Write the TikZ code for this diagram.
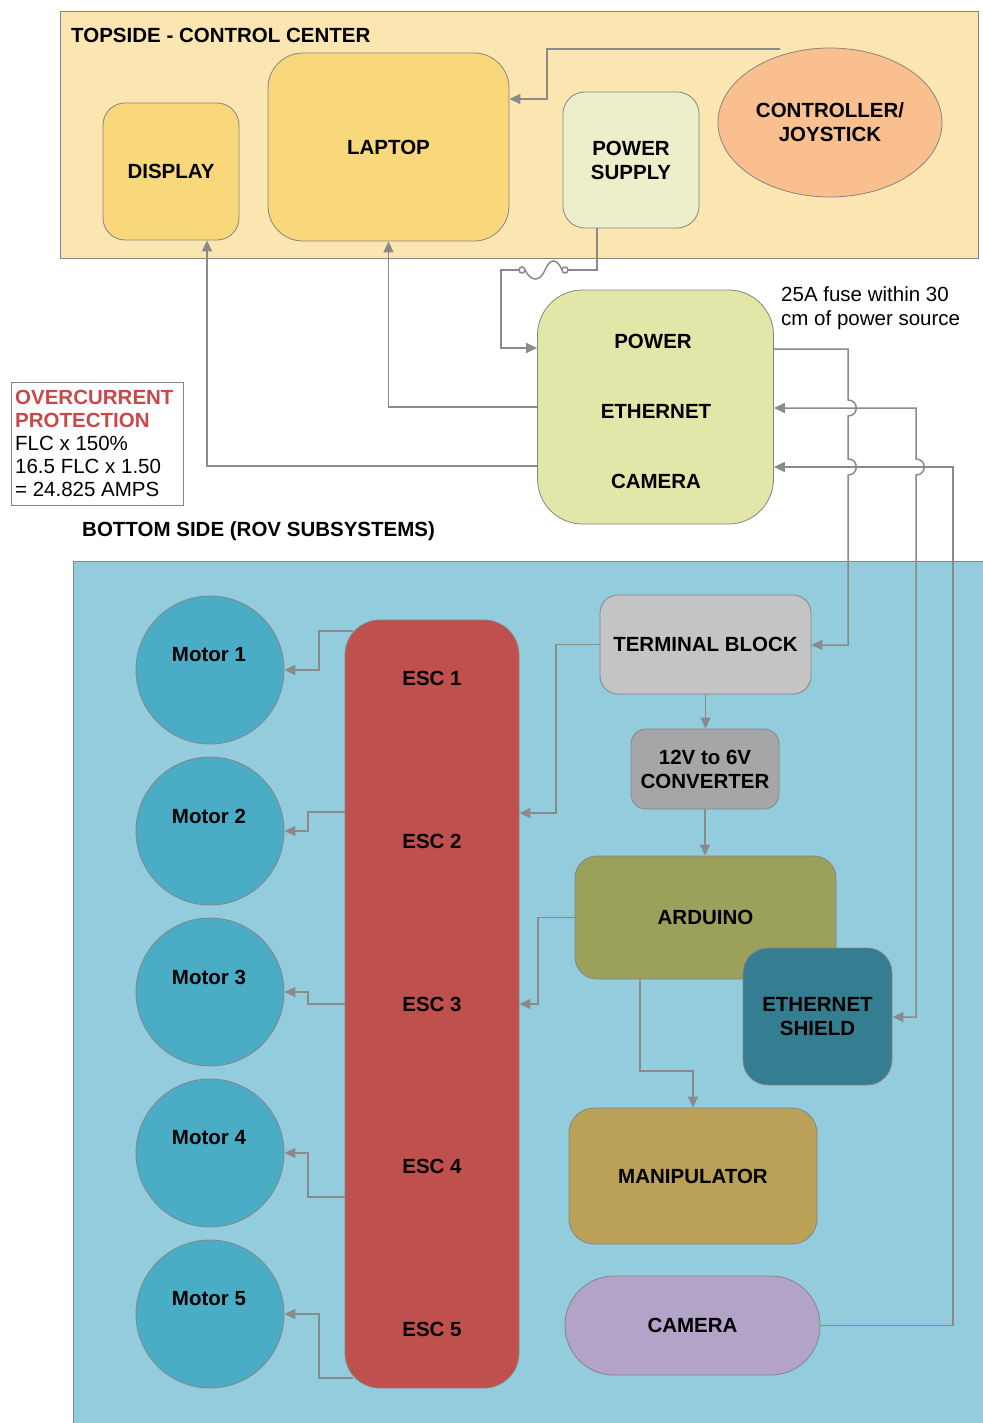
\documentclass[tikz,border=0pt]{standalone}
\usepackage{fontspec}
\setmainfont{Liberation Sans}
\usetikzlibrary{arrows.meta,shapes.geometric,calc}
\definecolor{topbg}{HTML}{FBE5B0}
\definecolor{yel}{HTML}{F9D87C}
\definecolor{psuc}{HTML}{EDEFCB}
\definecolor{ctrlc}{HTML}{F9BF8F}
\definecolor{hubc}{HTML}{E2E6A9}
\definecolor{botbg}{HTML}{93CDDD}
\definecolor{motorc}{HTML}{4BACC6}
\definecolor{escc}{HTML}{C0504D}
\definecolor{tbc}{HTML}{C4C4C4}
\definecolor{convc}{HTML}{A6A6A6}
\definecolor{ardc}{HTML}{9BA05A}
\definecolor{shieldc}{HTML}{357E92}
\definecolor{manipc}{HTML}{BBA057}
\definecolor{camc}{HTML}{B3A3C8}
\definecolor{linegray}{HTML}{8A8A8A}
\definecolor{bordergray}{HTML}{858585}
\definecolor{ocred}{HTML}{C9484A}
\newcommand\lblfont{\fontsize{20.5}{24}\selectfont\bfseries}
\newcommand\regfont{\fontsize{20.5}{23.5}\selectfont}
\begin{document}
\begin{tikzpicture}[x=1pt,y=-1pt,
  box/.style={draw=bordergray, line width=0.8pt, inner sep=0pt, align=center, font=\lblfont},
  lbl/.style={inner sep=0pt, align=center, font=\lblfont},
  conn/.style={draw=linegray, line width=1.5pt},
  arr/.style={conn, -{Triangle[length=11pt,width=10pt]}},
  darr/.style={conn, {Triangle[length=11pt,width=10pt]}-{Triangle[length=11pt,width=10pt]}}]
\useasboundingbox (0,0) rectangle (982,1423);
\fill[white] (0,0) rectangle (982,1423);

% topside
\node[box, fill=topbg, anchor=north west, minimum width=918pt, minimum height=247pt] (top) at (60,11) {};
\node[lbl, anchor=west] (toptitle) at (71,35) {TOPSIDE - CONTROL CENTER};
\node[box, fill=yel, minimum width=136pt, minimum height=137pt, rounded corners=22pt] (display) at (171,171.5) {DISPLAY};
\node[box, fill=yel, minimum width=241pt, minimum height=188pt, rounded corners=35pt] (laptop) at (388.5,147) {LAPTOP};
\node[box, fill=psuc, minimum width=136pt, minimum height=136pt, rounded corners=22pt] (psu) at (631,160) {POWER\\SUPPLY};
\node[box, ellipse, fill=ctrlc, minimum width=224pt, minimum height=149pt] (ctrl) at (830,122.5) {CONTROLLER/\\JOYSTICK};

% hub
\node[box, fill=hubc, minimum width=236pt, minimum height=234pt, rounded corners=45pt] (hub) at (655.5,407) {};
\node[lbl] (hubpow) at (653,341) {POWER};
\node[lbl] (hubeth) at (656,411) {ETHERNET};
\node[lbl] (hubcam) at (656,481) {CAMERA};
\node[inner sep=0pt, anchor=west, align=left, font=\regfont] (fusenote) at (781,308) {25A fuse within 30\\cm of power source};

% overcurrent
\node[draw=bordergray, line width=0.8pt, fill=white, anchor=north west, minimum width=172pt, minimum height=123pt, inner sep=0pt] (oc) at (11,382) {};
\node[inner sep=0pt, anchor=west, align=left, font=\fontsize{20.5}{23.2}\selectfont] (octext) at (15,443.5)
  {{\bfseries\color{ocred}OVERCURRENT}\\{\bfseries\color{ocred}PROTECTION}\\FLC x 150\%\\16.5 FLC x 1.50\\= 24.825 AMPS};

\node[lbl, anchor=west] (bottitle) at (82,531) {BOTTOM SIDE (ROV SUBSYSTEMS)};

% bottom side
\node[box, fill=botbg, anchor=north west, minimum width=912pt, minimum height=866pt] (bot) at (73,561) {};

\foreach \i/\y in {1/670,2/831,3/992,4/1153,5/1314}{
  \node[box, circle, fill=motorc, minimum size=148pt] (m\i) at (210,\y) {};
  \node[lbl] (ml\i) at (209,\y-15) {Motor \i};
}
\node[box, fill=escc, minimum width=174pt, minimum height=768pt, rounded corners=35pt] (esc) at (432,1004) {};
\foreach \i/\y in {1/678,2/841,3/1004,4/1166,5/1329}{
  \node[lbl] (escl\i) at (432,\y) {ESC \i};
}
\node[box, fill=tbc, minimum width=211pt, minimum height=99pt, rounded corners=18pt] (tb) at (705.5,644.5) {TERMINAL BLOCK};
\node[box, fill=convc, minimum width=148pt, minimum height=80pt, rounded corners=15pt] (conv) at (705,769) {12V to 6V\\CONVERTER};
\node[box, fill=ardc, minimum width=261pt, minimum height=123pt, rounded corners=22pt] (ard) at (705.5,917.5) {ARDUINO};
\node[box, fill=shieldc, minimum width=149pt, minimum height=137pt, rounded corners=25pt] (shield) at (817.5,1016.5) {ETHERNET\\SHIELD};
\node[box, fill=manipc, minimum width=248pt, minimum height=136pt, rounded corners=25pt] (manip) at (693,1176) {MANIPULATOR};
\node[box, fill=camc, minimum width=255pt, minimum height=99pt, rounded corners=49pt] (cam) at (692.5,1325.5) {CAMERA};

% connectors topside
\coordinate (ctrlout) at (780,49);
\draw[arr] (ctrlout) -- (547,49) -- (547,99) -- (laptop.east |- 0,99);

\draw[conn] (psu.south -| 597,0) -- (597,270) -- (568,270);
\draw[conn] (565,270) circle (3);
\draw[conn] (522,270) circle (3);
\draw[conn] (525,270) .. controls (531,282) and (540,282) .. (545,270) .. controls (550,258) and (557,258) .. (562,270);
\draw[arr] (519,270) -- (501,270) -- (501,348) -- (hub.west |- 0,348);

\draw[arr] (hub.west |- 0,407) -| (laptop.south);
\draw[arr] (hub.west |- 0,466) -| (display.south -| 207,0);

% hub right side
\draw[arr] (hub.east |- 0,349) -- (848,349) -- (848,400)
  .. controls (859,400) and (859,416) .. (848,416) -- (848,459)
  .. controls (859,459) and (859,475) .. (848,475) -- (848,645) -- (tb.east |- 0,645);
\draw[darr] (hub.east |- 0,408) -- (916,408) -- (916,459)
  .. controls (927,459) and (927,475) .. (916,475) -- (916,1017) -- (shield.east |- 0,1017);
\draw[arr] (cam.east) -- (953,1325.5) -- (953,467) -- (hub.east |- 0,467);

% bottom connectors
\draw[arr] (tb.west) -- (556,644.5) |- (esc.east |- 0,813);
\draw[arr] (tb.south) -- (conv.north -| tb.south);
\draw[arr] (conv.south) -- (ard.north -| conv.south);
\draw[arr] (ard.west) -- (538,917.5) |- (esc.east |- 0,1004);
\draw[arr] (ard.south -| 640,0) -- (640,1071) -| (manip.north);

\coordinate (e1) at (353,631);
\coordinate (e5) at (353,1378);
\draw[arr] (e1) -- (319,631) -- (319,670) -- (m1.east);
\draw[arr] (esc.west |- 0,812) -- (308,812) -- (308,831) -- (m2.east);
\draw[arr] (esc.west |- 0,1004) -- (308,1004) -- (308,992) -- (m3.east);
\draw[arr] (esc.west |- 0,1197) -- (308,1197) -- (308,1153) -- (m4.east);
\draw[arr] (e5) -- (319,1378) -- (319,1314) -- (m5.east);
\end{tikzpicture}
\end{document}
